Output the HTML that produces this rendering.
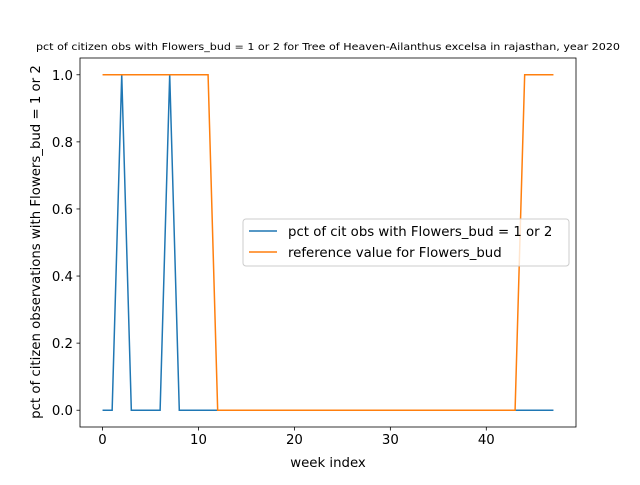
<!DOCTYPE html>
<html><head><meta charset="utf-8"><style>
body{margin:0;background:#fff;}
svg{font-family:"DejaVu Sans","Liberation Sans",sans-serif;}
</style></head><body>
<svg id="chart" width="640" height="480" xmlns="http://www.w3.org/2000/svg">
<rect width="640" height="480" fill="#fff"/>
<text x="328" y="50" font-size="9.6" text-anchor="middle" textLength="584" lengthAdjust="spacingAndGlyphs">pct of citizen obs with Flowers_bud = 1 or 2 for Tree of Heaven-Ailanthus excelsa in rajasthan, year 2020</text>
<g id="ticks"></g>
<g id="lines"></g>
<rect x="80" y="58" width="496" height="369" fill="none" stroke="#000" stroke-width="0.8"/>
<text x="328" y="467" font-size="13.3" text-anchor="middle">week index</text>
<text transform="translate(40,242) rotate(-90)" font-size="13.3" text-anchor="middle">pct of citizen observations with Flowers_bud = 1 or 2</text>
<g>
<rect x="243" y="219" width="326" height="47" rx="3" fill="#fff" fill-opacity="0.8" stroke="#ccc"/>
<line x1="249" y1="231" x2="277" y2="231" stroke="#1f77b4" stroke-width="1.5"/>
<text x="288" y="236" font-size="13.3">pct of cit obs with Flowers_bud = 1 or 2</text>
<line x1="249" y1="252" x2="277" y2="252" stroke="#ff7f0e" stroke-width="1.5"/>
<text x="288" y="257" font-size="13.3">reference value for Flowers_bud</text>
</g>
</svg>
<script>
const citizenPct=[0,0,1,0,0,0,0,1,0,0,0,0,0,0,0,0,0,0,0,0,0,0,0,0,0,0,0,0,0,0,0,0,0,0,0,0,0,0,0,0,0,0,0,0,0,0,0,0];
const referenceVal=[1,1,1,1,1,1,1,1,1,1,1,1,0,0,0,0,0,0,0,0,0,0,0,0,0,0,0,0,0,0,0,0,0,0,0,0,0,0,0,0,0,0,0,0,1,1,1,1];
const xTicks=[0,10,20,30,40];
const yTicks=[0.0,0.2,0.4,0.6,0.8,1.0];
const NS="http://www.w3.org/2000/svg";
const L=80,R=576,T=58,B=427,x0=-2.35,x1=49.35,y0=-0.05,y1=1.05;
const sx=v=>L+(v-x0)/(x1-x0)*(R-L);
const sy=v=>B-(v-y0)/(y1-y0)*(B-T);
const tk=document.getElementById('ticks'),ln=document.getElementById('lines');
function mk(tag,attrs,parent){const e=document.createElementNS(NS,tag);for(const k in attrs)e.setAttribute(k,attrs[k]);parent.appendChild(e);return e;}
xTicks.forEach(v=>{
 const l=mk('line',{x1:sx(v),x2:sx(v),y1:B,y2:B+3.5,stroke:'#000','stroke-width':0.8},tk);
 
 
 const t=mk('text',{x:sx(v),y:B+17,'font-size':13.3,'text-anchor':'middle'},tk);t.textContent=v;
 
 
});
yTicks.forEach(v=>{
 const l=mk('line',{x1:L-3.5,x2:L,y1:sy(v),y2:sy(v),stroke:'#000','stroke-width':0.8},tk);
 
 
 const t=mk('text',{x:L-7,y:sy(v)+5,'font-size':13.3,'text-anchor':'end'},tk);t.textContent=v.toFixed(1);
 
 
});
function series(arr,color,name){
 const p=mk('polyline',{points:arr.map((v,i)=>sx(i)+','+sy(v)).join(' '),fill:'none',stroke:color,'stroke-width':1.5},ln);
 
 
}
series(citizenPct,'#1f77b4','citizen-pct-line');
series(referenceVal,'#ff7f0e','reference-value-line');
</script>
</body></html>
